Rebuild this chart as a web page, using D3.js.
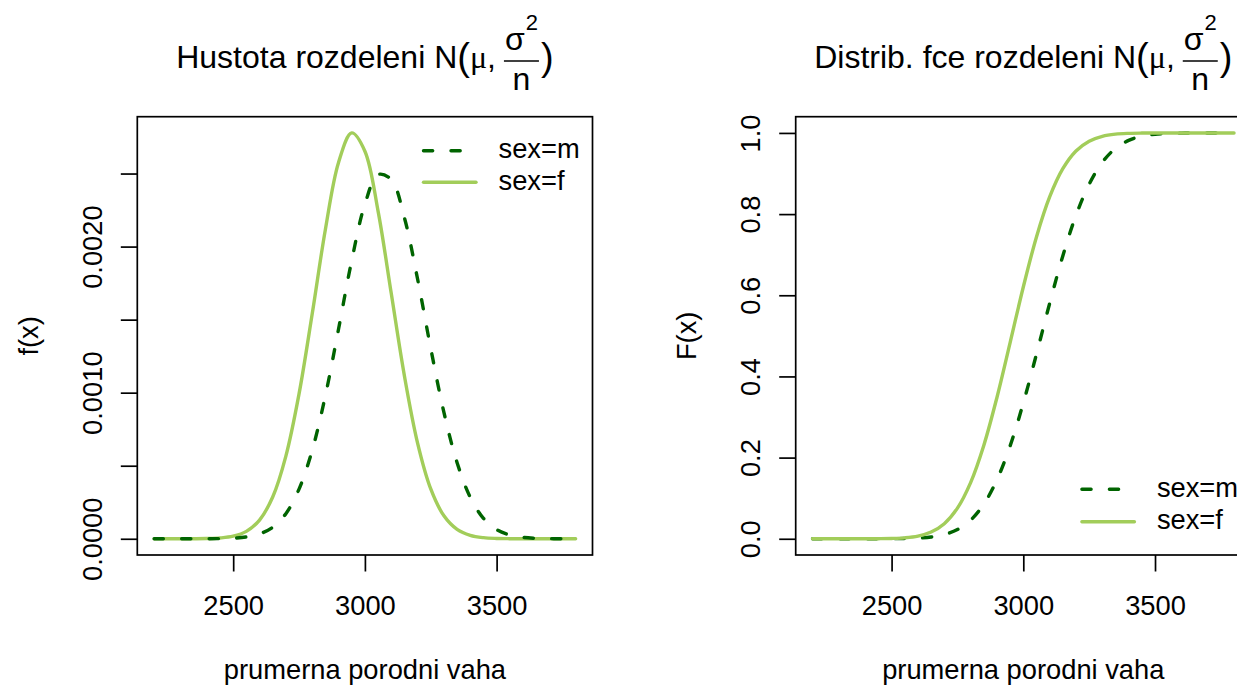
<!DOCTYPE html>
<html>
<head>
<meta charset="utf-8">
<script src="https://cdn.jsdelivr.net/npm/d3@7"></script>
<style>
  body { margin: 0; background: #fff; }
  svg text { font-family: "Liberation Sans", Arial, Helvetica, sans-serif; fill: #000; }
</style>
</head>
<body>
<svg id="chart" width="1237" height="685"></svg>
<script>
// birth weight grid (x values shared by all curves)
var weights = [2200,2250,2300,2350,2400,2450,2500,2550,2600,2650,2700,2750,2800,2850,2900,2950,
               3000,3050,3100,3150,3200,3250,3300,3350,3400,3450,3500,3550,3600,3650,3700,3750,3800];

// density, sex = m (dashed dark green)
var densMale = [0,0,0.00000002,0.00000009,0.00000037,0.0000013,0.0000042,0.0000124,0.000033,0.0000792,
                0.000172,0.00034,0.000606,0.00098,0.001436,0.001905,0.00229,0.002493,0.002459,0.002197,
                0.001778,0.001303,0.000865,0.000521,0.000284,0.00014,0.0000626,0.0000253,0.0000093,
                0.0000031,0.0000009,0.0000003,0.0000001];
// density, sex = f (solid light green)
var densFemale = [0,0.00000002,0.00000008,0.00000037,0.0000015,0.0000056,0.0000178,0.0000508,0.000128,0.000286,
                  0.000566,0.000992,0.00154,0.002117,0.002576,0.002778,0.002653,0.002243,0.00168,0.001115,
                  0.000655,0.000341,0.000157,0.0000641,0.0000232,0.0000074,0.0000021,0.0000005,0.0000001,
                  0,0,0,0];
// distribution function, sex = m
var cdfMale = [0,0,0,0.000003,0.000013,0.000051,0.000177,0.00056,0.00163,0.00428,
               0.0103,0.0228,0.0459,0.0852,0.1454,0.229,0.3344,0.4549,0.5798,0.697,
               0.7968,0.8738,0.9277,0.9619,0.9816,0.9919,0.9967,0.9988,0.9996,0.9999,1,1,1];
// distribution function, sex = f
var cdfFemale = [0,0,0.000002,0.000012,0.000053,0.00021,0.00074,0.00233,0.00655,0.0165,
                 0.0372,0.0756,0.1385,0.23,0.3482,0.4833,0.6204,0.7438,0.8422,0.9118,
                 0.9555,0.9798,0.9917,0.997,0.999,0.9997,0.9999,1,1,1,1,1,1];

var xTicks = [2500, 3000, 3500];
var densTicks = [0, 0.0005, 0.001, 0.0015, 0.002, 0.0025];
var densTickLabels = ["0.0000", "", "0.0010", "", "0.0020", ""];
var cdfTicks = [0, 0.2, 0.4, 0.6, 0.8, 1.0];
var cdfTickLabels = ["0.0", "0.2", "0.4", "0.6", "0.8", "1.0"];
var legendLabels = ["sex=m", "sex=f"];

var darkGreen = "#006400", lightGreen = "#a2cd5a";
var fontSize = 27.3, titleSize = 32;

var svg = d3.select("#chart");

// R style range: data range padded by 4% on each side
function padded(ext) {
  var d = (ext[1] - ext[0]) * 0.04;
  return [ext[0] - d, ext[1] + d];
}

function drawTitle(cx, label) {
  var g = svg.append("g");
  var x = 0, base = 68;
  function piece(txt, size, family, px, py) {
    var t = g.append("text").attr("x", px).attr("y", py)
      .style("font-size", size + "px").text(txt);
    if (family) t.style("font-family", family);
    return t.node().getComputedTextLength();
  }
  x += piece(label, titleSize, null, x, base);
  x += piece("(", 38, null, x, 70);
  x += piece("\u03bc", titleSize, "'Liberation Serif', 'Times New Roman', serif", x, base);
  x += piece(",", titleSize, null, x, base) + 8;
  // fraction sigma^2 / n
  var sg = g.append("g");
  var sw = sg.append("text").attr("y", 50).style("font-size", titleSize + "px").text("\u03c3")
    .node().getComputedTextLength();
  var two = sg.append("text").attr("x", sw + 1).attr("y", 30).style("font-size", "22px").text("2");
  var numW = sw + 1 + two.node().getComputedTextLength();
  var nT = g.append("text").attr("y", 90).style("font-size", titleSize + "px").text("n");
  var nW = nT.node().getComputedTextLength();
  var fw = Math.max(numW, nW) + 2;
  sg.attr("transform", "translate(" + (x + 1 + (fw - 2 - numW) / 2) + ",0)");
  nT.attr("x", x + (fw - nW) / 2);
  g.append("line").attr("x1", x).attr("x2", x + fw).attr("y1", 61).attr("y2", 61)
    .attr("stroke", "#000").attr("stroke-width", 1.7);
  x += fw + 2;
  x += piece(")", 38, null, x, 70);
  g.attr("transform", "translate(" + (cx - x / 2) + ",0)");
}

function drawPanel(p) {
  var xScale = d3.scaleLinear().domain(padded([weights[0], weights[weights.length - 1]]))
    .range([p.left, p.right]);
  var yScale = d3.scaleLinear().domain(padded([0, p.ymax])).range([p.bottom, p.top]);

  var g = svg.append("g");

  var line = d3.line()
    .x(function (d) { return xScale(d[0]); })
    .y(function (d) { return yScale(d[1]); })
    .curve(d3.curveCatmullRom);

  var series = [
    { vals: p.male, color: darkGreen, dash: "9.2,18.3" },
    { vals: p.female, color: lightGreen, dash: null }
  ];
  if (p.maleOnTop) series.reverse();
  series.forEach(function (s) {
    g.append("path")
      .attr("d", line(d3.zip(weights, s.vals)))
      .attr("fill", "none")
      .attr("stroke", s.color)
      .attr("stroke-width", 3.4)
      .attr("stroke-linecap", "round")
      .attr("stroke-linejoin", "round")
      .attr("stroke-dasharray", s.dash);
  });

  // box
  g.append("rect").attr("x", p.left).attr("y", p.top)
    .attr("width", p.right - p.left).attr("height", p.bottom - p.top)
    .attr("fill", "none").attr("stroke", "#000").attr("stroke-width", 1.7);

  // x axis
  var xAxis = d3.axisBottom(xScale).tickValues(xTicks).tickSize(16.5).tickPadding(0)
    .tickFormat(d3.format("d"));
  var xa = g.append("g").attr("transform", "translate(0," + p.bottom + ")").call(xAxis);
  xa.select(".domain").remove();
  xa.selectAll(".tick line").attr("stroke", "#000").attr("stroke-width", 1.7);
  xa.selectAll(".tick text").attr("y", 60).attr("dy", null)
    .style("font-size", fontSize + "px").style("font-family", null).attr("fill", "#000");

  // y axis
  var yAxis = d3.axisLeft(yScale).tickValues(p.yTicks).tickSize(16.5)
    .tickFormat(function (d, i) { return p.yLabels[i]; });
  var ya = g.append("g").attr("transform", "translate(" + p.left + ",0)").call(yAxis);
  ya.select(".domain").remove();
  ya.selectAll(".tick line").attr("stroke", "#000").attr("stroke-width", 1.7);
  ya.selectAll(".tick text")
    .attr("x", null).attr("dy", null)
    .attr("text-anchor", "middle")
    .attr("transform", "translate(-35.5,0) rotate(-90)")
    .style("font-size", fontSize + "px").style("font-family", null).attr("fill", "#000");

  // axis titles
  svg.append("text").attr("x", (p.left + p.right) / 2).attr("y", p.bottom + 124)
    .attr("text-anchor", "middle").style("font-size", fontSize + "px")
    .text("prumerna porodni vaha");
  svg.append("text")
    .attr("transform", "translate(" + (p.left - 99.5) + "," + ((p.top + p.bottom) / 2) + ") rotate(-90)")
    .attr("text-anchor", "middle").style("font-size", fontSize + "px")
    .text(p.ylab);

  // legend (no box)
  var rows = p.legendTop ? [p.top + 34, p.top + 65.6] : [p.bottom - 65.7, p.bottom - 33.3];
  legendLabels.forEach(function (lab, i) {
    g.append("line")
      .attr("x1", p.right - 169).attr("x2", p.right - 116.5)
      .attr("y1", rows[i]).attr("y2", rows[i])
      .attr("stroke", i === 0 ? darkGreen : lightGreen)
      .attr("stroke-width", 3.4).attr("stroke-linecap", "round")
      .attr("stroke-dasharray", i === 0 ? "9.2,18.3" : null);
    g.append("text").attr("x", p.right - 94).attr("y", rows[i] + 7.6)
      .style("font-size", fontSize + "px").text(lab);
  });

  drawTitle((p.left + p.right) / 2, p.title);
}

drawPanel({
  left: 137.3, right: 592.5, top: 116.7, bottom: 555,
  male: densMale, female: densFemale, maleOnTop: true,
  ymax: d3.max(densFemale.concat(densMale)),
  yTicks: densTicks, yLabels: densTickLabels,
  ylab: "f(x)", legendTop: true,
  title: "Hustota rozdeleni N"
});

drawPanel({
  left: 795.7, right: 1250.9, top: 116.7, bottom: 555,
  male: cdfMale, female: cdfFemale, maleOnTop: false,
  ymax: d3.max(cdfFemale.concat(cdfMale)),
  yTicks: cdfTicks, yLabels: cdfTickLabels,
  ylab: "F(x)", legendTop: false,
  title: "Distrib. fce rozdeleni N"
});
</script>
</body>
</html>
